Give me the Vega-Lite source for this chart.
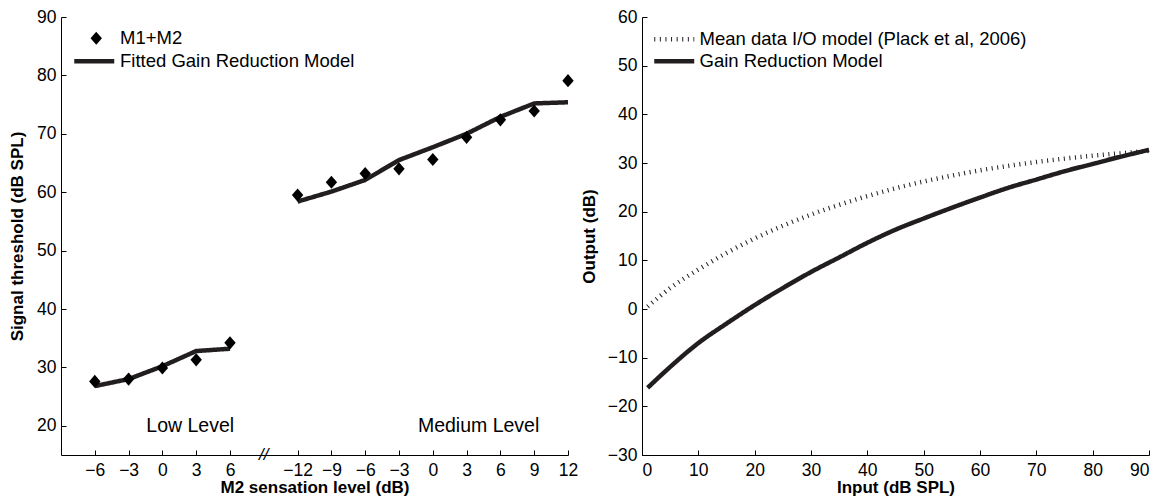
{
  "$schema": "https://vega.github.io/schema/vega-lite/v6.json",
  "padding": {"left": 8, "top": 8, "right": 5, "bottom": 0},
  "background": "white",
  "spacing": 2,
  "resolve": {
    "scale": {"strokeDash": "independent", "shape": "independent", "strokeWidth": "independent"},
    "legend": {"strokeDash": "independent", "shape": "independent", "strokeWidth": "independent"}
  },
  "datasets": {
    "thresholds": [
      {"key": "L-6", "level": "Low", "sl": -6, "threshold": 27.6, "model": 26.8},
      {"key": "L-3", "level": "Low", "sl": -3, "threshold": 28.0, "model": 28.0},
      {"key": "L0", "level": "Low", "sl": 0, "threshold": 29.9, "model": 30.2},
      {"key": "L3", "level": "Low", "sl": 3, "threshold": 31.3, "model": 32.8},
      {"key": "L6", "level": "Low", "sl": 6, "threshold": 34.2, "model": 33.2},
      {"key": "M-12", "level": "Medium", "sl": -12, "threshold": 59.5, "model": 58.4},
      {"key": "M-9", "level": "Medium", "sl": -9, "threshold": 61.7, "model": 60.1},
      {"key": "M-6", "level": "Medium", "sl": -6, "threshold": 63.2, "model": 62.1},
      {"key": "M-3", "level": "Medium", "sl": -3, "threshold": 64.0, "model": 65.5},
      {"key": "M0", "level": "Medium", "sl": 0, "threshold": 65.6, "model": 67.7},
      {"key": "M3", "level": "Medium", "sl": 3, "threshold": 69.4, "model": 70.0},
      {"key": "M6", "level": "Medium", "sl": 6, "threshold": 72.4, "model": 72.9},
      {"key": "M9", "level": "Medium", "sl": 9, "threshold": 73.9, "model": 75.2},
      {"key": "M12", "level": "Medium", "sl": 12, "threshold": 79.1, "model": 75.4}
    ],
    "notes": [
      {"key": "L3", "value": 20, "text": "Low Level"},
      {"key": "M3", "value": 20, "text": "Medium Level"},
      {"key": "brk", "value": 15, "text": "//"}
    ],
    "io": [
      {"series": "Mean data I/O model (Plack et al, 2006)", "input": 1, "output": 0.5},
      {"series": "Mean data I/O model (Plack et al, 2006)", "input": 5, "output": 4.3},
      {"series": "Mean data I/O model (Plack et al, 2006)", "input": 10, "output": 8.1},
      {"series": "Mean data I/O model (Plack et al, 2006)", "input": 15, "output": 11.5},
      {"series": "Mean data I/O model (Plack et al, 2006)", "input": 20, "output": 14.5},
      {"series": "Mean data I/O model (Plack et al, 2006)", "input": 25, "output": 17.1},
      {"series": "Mean data I/O model (Plack et al, 2006)", "input": 30, "output": 19.4},
      {"series": "Mean data I/O model (Plack et al, 2006)", "input": 35, "output": 21.4},
      {"series": "Mean data I/O model (Plack et al, 2006)", "input": 40, "output": 23.2},
      {"series": "Mean data I/O model (Plack et al, 2006)", "input": 45, "output": 24.8},
      {"series": "Mean data I/O model (Plack et al, 2006)", "input": 50, "output": 26.2},
      {"series": "Mean data I/O model (Plack et al, 2006)", "input": 55, "output": 27.4},
      {"series": "Mean data I/O model (Plack et al, 2006)", "input": 60, "output": 28.5},
      {"series": "Mean data I/O model (Plack et al, 2006)", "input": 65, "output": 29.4},
      {"series": "Mean data I/O model (Plack et al, 2006)", "input": 70, "output": 30.2},
      {"series": "Mean data I/O model (Plack et al, 2006)", "input": 75, "output": 30.9},
      {"series": "Mean data I/O model (Plack et al, 2006)", "input": 80, "output": 31.5},
      {"series": "Mean data I/O model (Plack et al, 2006)", "input": 85, "output": 32.0},
      {"series": "Mean data I/O model (Plack et al, 2006)", "input": 90, "output": 32.5},
      {"series": "Gain Reduction Model", "input": 1, "output": -16.2},
      {"series": "Gain Reduction Model", "input": 5, "output": -11.9},
      {"series": "Gain Reduction Model", "input": 10, "output": -7.0},
      {"series": "Gain Reduction Model", "input": 15, "output": -3.0},
      {"series": "Gain Reduction Model", "input": 20, "output": 0.8},
      {"series": "Gain Reduction Model", "input": 25, "output": 4.3},
      {"series": "Gain Reduction Model", "input": 30, "output": 7.6},
      {"series": "Gain Reduction Model", "input": 35, "output": 10.6},
      {"series": "Gain Reduction Model", "input": 40, "output": 13.6},
      {"series": "Gain Reduction Model", "input": 45, "output": 16.3},
      {"series": "Gain Reduction Model", "input": 50, "output": 18.6},
      {"series": "Gain Reduction Model", "input": 55, "output": 20.8},
      {"series": "Gain Reduction Model", "input": 60, "output": 22.9},
      {"series": "Gain Reduction Model", "input": 65, "output": 24.9},
      {"series": "Gain Reduction Model", "input": 70, "output": 26.6},
      {"series": "Gain Reduction Model", "input": 75, "output": 28.3},
      {"series": "Gain Reduction Model", "input": 80, "output": 29.8},
      {"series": "Gain Reduction Model", "input": 85, "output": 31.3},
      {"series": "Gain Reduction Model", "input": 90, "output": 32.7}
    ]
  },
  "hconcat": [
    {
      "width": 507,
      "height": 438,
      "encoding": {
        "x": {
          "field": "key",
          "type": "nominal",
          "scale": {
            "type": "point",
            "padding": 0,
            "domain": ["pad", "L-6", "L-3", "L0", "L3", "L6", "brk", "M-12", "M-9", "M-6", "M-3", "M0", "M3", "M6", "M9", "M12"]
          },
          "axis": {
            "title": "M2 sensation level (dB)",
            "values": ["L-6", "L-3", "L0", "L3", "L6", "M-12", "M-9", "M-6", "M-3", "M0", "M3", "M6", "M9", "M12"],
            "labelExpr": "replace(substring(datum.value, 1), '-', '\u2212')",
            "labelAngle": 0,
            "labelPadding": 11,
            "titlePadding": 1
          }
        }
      },
      "layer": [
        {
          "data": {"name": "thresholds"},
          "mark": {"type": "line", "color": "#221e1f", "strokeWidth": 4.5, "strokeJoin": "miter"},
          "encoding": {
            "y": {
              "field": "model",
              "type": "quantitative",
              "scale": {"domain": [15, 90], "nice": false, "zero": false},
              "axis": {"title": "Signal threshold (dB SPL)", "values": [20, 30, 40, 50, 60, 70, 80, 90], "labelPadding": 10, "titlePadding": 10}
            },
            "detail": {"field": "level"},
            "strokeDash": {
              "datum": "Fitted Gain Reduction Model",
              "scale": {"range": [[1, 0]]},
              "legend": {
                "orient": "none", "legendX": 24, "legendY": 35, "title": null,
                "symbolType": "M-4,0H4", "symbolSize": 100, "symbolStrokeWidth": 4.5,
                "symbolStrokeColor": "#221e1f", "labelOffset": 16.5
              }
            }
          }
        },
        {
          "data": {"name": "thresholds"},
          "mark": {"type": "point", "filled": true, "color": "black", "opacity": 1, "size": 144},
          "encoding": {
            "y": {"field": "threshold", "type": "quantitative"},
            "shape": {
              "datum": "M1+M2",
              "scale": {"range": ["M0,-1.1L0.95,0L0,1.1L-0.95,0Z"]},
              "legend": {
                "orient": "none", "legendX": 26, "legendY": 12, "title": null,
                "symbolSize": 144, "symbolFillColor": "black", "symbolStrokeColor": "black",
                "labelOffset": 14.5
              }
            }
          }
        },
        {
          "data": {"name": "notes"},
          "transform": [{"filter": "datum.text == 'Low Level'"}],
          "mark": {"type": "text", "fontSize": 19.5, "color": "black", "dx": -6, "baseline": "middle"},
          "encoding": {
            "y": {"field": "value", "type": "quantitative"},
            "text": {"field": "text"}
          }
        },
        {
          "data": {"name": "notes"},
          "transform": [{"filter": "datum.text == 'Medium Level'"}],
          "mark": {"type": "text", "fontSize": 19.5, "color": "black", "dx": 12, "baseline": "middle"},
          "encoding": {
            "y": {"field": "value", "type": "quantitative"},
            "text": {"field": "text"}
          }
        },
        {
          "data": {"name": "notes"},
          "transform": [{"filter": "datum.text == '//'"}],
          "mark": {"type": "text", "fontSize": 17, "color": "black", "baseline": "middle", "fontStyle": "italic"},
          "encoding": {
            "y": {"field": "value", "type": "quantitative"},
            "text": {"field": "text"}
          }
        }
      ]
    },
    {
      "width": 507,
      "height": 438,
      "data": {"name": "io"},
      "mark": {"type": "line", "color": "#221e1f", "interpolate": "monotone"},
      "encoding": {
        "x": {
          "field": "input",
          "type": "quantitative",
          "scale": {"domain": [0, 90], "nice": false},
          "axis": {"title": "Input (dB SPL)", "values": [0, 10, 20, 30, 40, 50, 60, 70, 80, 90], "labelPadding": 11, "titlePadding": 1}
        },
        "y": {
          "field": "output",
          "type": "quantitative",
          "scale": {"domain": [-30, 60], "nice": false, "zero": false},
          "axis": {"title": "Output (dB)", "values": [-30, -20, -10, 0, 10, 20, 30, 40, 50, 60], "labelPadding": 10, "titlePadding": 9}
        },
        "strokeDash": {
          "field": "series",
          "type": "nominal",
          "scale": {
            "domain": ["Mean data I/O model (Plack et al, 2006)", "Gain Reduction Model"],
            "range": [[1, 4.6], [1, 0]]
          },
          "legend": {
            "orient": "none", "legendX": 23, "legendY": 13, "title": null,
            "symbolType": "M-4,0H4", "symbolSize": 100, "symbolStrokeColor": "#221e1f",
            "labelOffset": 16, "rowPadding": 3
          }
        },
        "strokeWidth": {
          "field": "series",
          "type": "nominal",
          "scale": {
            "type": "ordinal",
            "domain": ["Mean data I/O model (Plack et al, 2006)", "Gain Reduction Model"],
            "range": [4.5, 4.5]
          },
          "legend": {
            "orient": "none", "legendX": 23, "legendY": 13, "title": null,
            "symbolType": "M-4,0H4", "symbolSize": 100, "symbolStrokeColor": "#221e1f",
            "labelOffset": 16, "rowPadding": 3
          }
        }
      }
    }
  ],
  "config": {
    "font": "Liberation Sans",
    "view": {"stroke": null},
    "axis": {
      "grid": false,
      "domainColor": "black",
      "domainWidth": 1,
      "tickColor": "black",
      "tickSize": -5,
      "labelFont": "Liberation Sans",
      "labelFontSize": 17.5,
      "labelColor": "black",
      "titleFont": "Liberation Sans",
      "titleFontSize": 17,
      "titleFontWeight": "bold",
      "titleColor": "black"
    },
    "legend": {
      "labelFont": "Liberation Sans",
      "labelFontSize": 18.5,
      "labelColor": "black",
      "padding": 0,
      "labelLimit": 500
    }
  }
}
